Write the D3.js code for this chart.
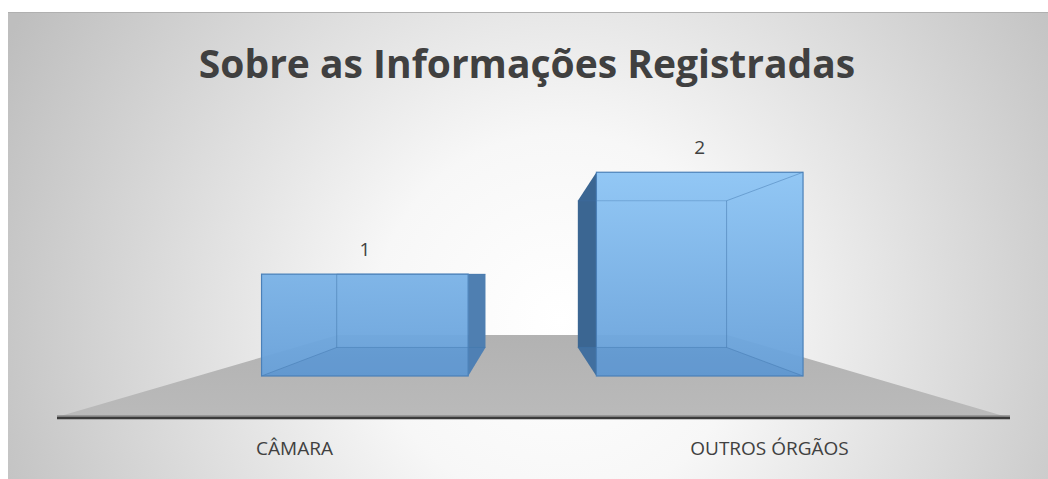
<!DOCTYPE html>
<html>
<head>
<meta charset="utf-8">
<script src="https://cdn.jsdelivr.net/npm/d3@7"></script>
<style>
  body { margin: 0; background: #fff; }
  svg { display: block; }
</style>
</head>
<body>
<svg id="chart"></svg>
<script>
// chart values
const title = "Sobre as Informações Registradas";
const categories = ["CÂMARA", "OUTROS ÓRGÃOS"];
const values = [1, 2];

let w = 1048;
let h = 479;

let svg = d3.select('#chart')
    .attr('width', w)
    .attr('height', h);

let defs = svg.append('defs');

// background panel, radial gray gradient
let bg = defs.append('radialGradient')
    .attr('id', 'bg')
    .attr('gradientUnits', 'userSpaceOnUse')
    .attr('cx', 560).attr('cy', 320).attr('r', 620);
bg.append('stop').attr('offset', '0%').attr('stop-color', '#ffffff');
bg.append('stop').attr('offset', '30%').attr('stop-color', '#f7f7f7');
bg.append('stop').attr('offset', '100%').attr('stop-color', '#bebebe');

// front faces share one vertical gradient in page space
let frontGrad = defs.append('linearGradient')
    .attr('id', 'front')
    .attr('gradientUnits', 'userSpaceOnUse')
    .attr('x1', 0).attr('y1', 170).attr('x2', 0).attr('y2', 376);
frontGrad.append('stop').attr('offset', '0%').attr('stop-color', '#8dc5f5');
frontGrad.append('stop').attr('offset', '100%').attr('stop-color', '#67a0d9');

let floorGrad = defs.append('linearGradient')
    .attr('id', 'floor').attr('x1', 0).attr('y1', 0).attr('x2', 0).attr('y2', 1);
floorGrad.append('stop').attr('offset', '0%').attr('stop-color', '#b2b2b2');
floorGrad.append('stop').attr('offset', '100%').attr('stop-color', '#bababa');

svg.append('rect')
    .attr('x', 8).attr('y', 12)
    .attr('width', w - 8).attr('height', h - 12)
    .attr('fill', 'url(#bg)');
svg.append('line')
    .attr('x1', 8).attr('x2', w).attr('y1', 12.5).attr('y2', 12.5)
    .attr('stroke', '#b0b0b0').attr('stroke-width', 1);

// front plane scales (floor front edge at y = 417)
let floorY = 417;
let xScale = d3.scaleBand()
    .domain(categories)
    .range([57, 1007]);

let yScale = d3.scaleLinear()
    .domain([0, 2])
    .range([floorY, 128]);

// perspective towards a vanishing point
let vp = [533, 278];
function proj(px, py, s) {
    return [vp[0] + s * (px - vp[0]), vp[1] + s * (py - vp[1])];
}
let barDepth = 0.705;   // bars front face
let backDepth = 0.41;   // floor back edge

// bar back face, its own perspective
let vp2 = [530, 274];
let s2 = 0.72;
function back(p) {
    return [vp2[0] + s2 * (p[0] - vp2[0]), vp2[1] + s2 * (p[1] - vp2[1])];
}

// floor
let fl = [
    proj(xScale.range()[0], floorY, 1),
    proj(xScale.range()[0], floorY, backDepth),
    proj(xScale.range()[1], floorY, backDepth),
    proj(xScale.range()[1], floorY, 1)
];
svg.append('polygon')
    .attr('points', fl.map(p => p.join(',')).join(' '))
    .attr('fill', 'url(#floor)');
svg.append('line')
    .attr('x1', fl[0][0]).attr('x2', fl[3][0] + 3)
    .attr('y1', floorY - 1).attr('y2', floorY - 1)
    .attr('stroke', '#8c8c8c').attr('stroke-width', 1.5);
svg.append('line')
    .attr('x1', fl[0][0]).attr('x2', fl[3][0] + 3)
    .attr('y1', floorY + 1).attr('y2', floorY + 1)
    .attr('stroke', '#3b3b3b').attr('stroke-width', 2.5);

// bars
let barW = xScale.bandwidth() * 0.617;
let bars = svg.append('g');

categories.forEach((c, i) => {
    let cx = xScale(c) + xScale.bandwidth() / 2;
    let tl = proj(cx - barW / 2, yScale(values[i]), barDepth);
    let tr = proj(cx + barW / 2, yScale(values[i]), barDepth);
    let bl = proj(cx - barW / 2, yScale(0), barDepth);
    let br = proj(cx + barW / 2, yScale(0), barDepth);
    let btl = back(tl), btr = back(tr), bbl = back(bl), bbr = back(br);
    let g = bars.append('g');
    let line = (a, b, col, op) => g.append('line')
        .attr('x1', a[0]).attr('y1', a[1]).attr('x2', b[0]).attr('y2', b[1])
        .attr('stroke', col).attr('stroke-width', 1).attr('stroke-opacity', op);
    let poly = (pts, fill, op) => g.append('polygon')
        .attr('points', pts.map(p => p.join(',')).join(' '))
        .attr('fill', fill).attr('fill-opacity', op);
    let left = cx < vp2[0];

    // outer side face
    if (left) {
        poly([tr, btr, bbr, br], '#4f7fb1', 1);
    } else {
        poly([btl, tl, bl, bbl], '#3b6692', 1);
    }
    // front face, nearly opaque
    poly([tl, tr, br, bl], 'url(#front)', 0.95);
    // bottom face seen through
    poly([bbl, bbr, br, bl], '#4f86bd', 0.3);
    // inner (back) edges seen through the glass
    line(btl, btr, '#3f74aa', 0.35);
    line(bbl, bbr, '#3f74aa', 0.45);
    if (left) {
        line(btl, bbl, '#3f74aa', 0.5);
        line(bbl, bl, '#3f74aa', 0.45);
    } else {
        line(btr, bbr, '#3f74aa', 0.5);
        line(bbr, br, '#3f74aa', 0.45);
        line(btr, tr, '#3f74aa', 0.45);
    }
    g.append('rect')
        .attr('x', tl[0]).attr('y', tl[1])
        .attr('width', tr[0] - tl[0]).attr('height', bl[1] - tl[1])
        .attr('fill', 'none').attr('stroke', '#4a80b8').attr('stroke-width', 1.2);

    // value label
    svg.append('text')
        .attr('x', (tl[0] + tr[0]) / 2)
        .attr('y', tl[1] - 18)
        .attr('text-anchor', 'middle')
        .attr('font-family', 'Open Sans, sans-serif')
        .attr('font-size', '19px')
        .attr('fill', '#404040')
        .text(values[i]);
});

// category labels
svg.append('g').selectAll('text')
    .data(categories)
    .enter()
    .append('text')
    .attr('x', d => xScale(d) + xScale.bandwidth() / 2)
    .attr('y', 455)
    .attr('text-anchor', 'middle')
    .attr('font-family', 'Open Sans, sans-serif')
    .attr('font-size', '19px')
    .attr('fill', '#404040')
    .text(d => d);

// title
svg.append('text')
    .attr('x', 527)
    .attr('y', 78)
    .attr('text-anchor', 'middle')
    .attr('font-family', 'Open Sans, sans-serif')
    .attr('font-weight', 'bold')
    .attr('font-size', '39px')
    .attr('fill', '#404040')
    .text(title);
</script>
</body>
</html>
